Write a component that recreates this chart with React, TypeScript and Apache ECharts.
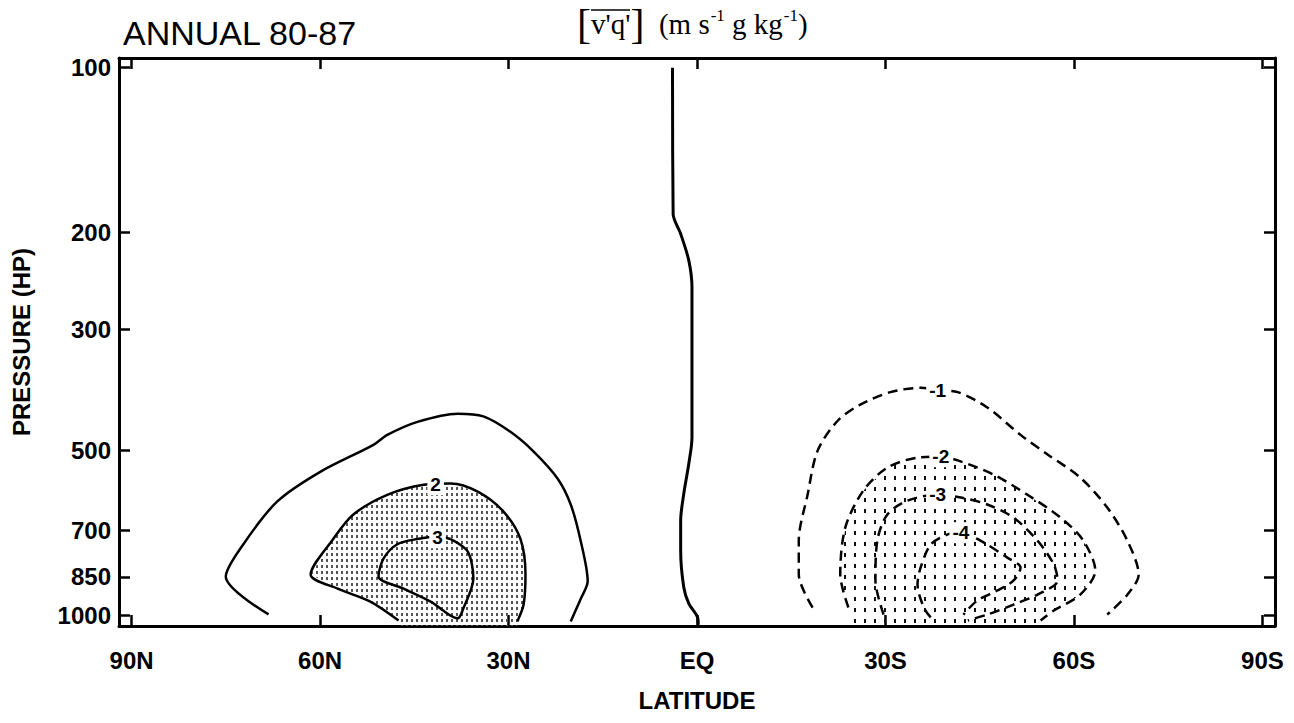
import React, { useEffect, useRef } from "react";
import * as echarts from "echarts";

// Axis definitions
const LAT_TICKS = [90, 60, 30, 0, -30, -60, -90];
const PRESSURE_TICKS = [100, 200, 300, 500, 700, 850, 1000];
const LAT_RANGE = [-92, 92];
const PRESSURE_RANGE = [96, 1045];

// Contours: [latitude (N positive), pressure (hPa)]
const ZERO_LINE = [
  [3.9, 100], [3.8, 185], [2.6, 201], [1.3, 225], [0.8, 252], [0.8, 473],
  [1.3, 528], [2.1, 599], [2.6, 671], [2.6, 761], [2.1, 889], [1.3, 951],
  [-0.1, 1008], [-0.2, 1040],
];
const NH_PLUS1 = [
  [68.2, 995], [75.0, 849], [72.2, 741], [66.8, 619], [59.9, 546], [51.5, 488],
  [49.3, 468], [44.5, 443], [38.1, 428], [34.0, 433], [29.7, 462], [26.0, 502],
  [22.2, 562], [20.1, 627], [18.5, 732], [17.4, 866], [18.5, 932], [20.1, 1025],
];
const NH_PLUS2 = [
  [47.5, 1021], [52.0, 943], [57.2, 893], [61.5, 842], [57.9, 725], [54.7, 654],
  [49.3, 602], [43.5, 577], [39.2, 574], [34.9, 594], [30.8, 646], [28.1, 725],
  [27.3, 842], [27.6, 955], [28.6, 1025],
];
const NH_PLUS3 = [
  [39.2, 725], [36.5, 764], [35.6, 856], [37.2, 971], [38.1, 1012], [42.4, 943],
  [46.7, 893], [50.7, 849], [49.9, 787], [47.7, 741], [44.5, 725], [41.3, 718],
  [39.2, 725],
];
const SH_MINUS1 = [
  [-18.4, 967], [-16.2, 842], [-16.2, 730], [-17.6, 602], [-19.2, 500], [-22.4, 441],
  [-26.0, 412], [-30.8, 391], [-35.6, 384], [-38.3, 388], [-41.5, 391], [-46.2, 417],
  [-51.5, 468], [-55.8, 508], [-61.0, 560], [-65.3, 635], [-68.5, 730], [-70.3, 842],
  [-68.5, 916], [-65.3, 996],
];
const SH_MINUS2 = [
  [-24.1, 967], [-22.8, 842], [-23.6, 691], [-26.5, 591], [-30.3, 537], [-35.1, 515],
  [-38.8, 513], [-41.5, 521], [-47.2, 553], [-52.6, 602], [-57.9, 663], [-61.5, 730],
  [-63.4, 828], [-61.0, 916], [-56.8, 979], [-54.7, 1021],
];
const SH_MINUS3 = [
  [-29.7, 996], [-28.4, 863], [-28.7, 730], [-30.3, 654], [-33.5, 617], [-38.3, 602],
  [-42.0, 609], [-46.2, 627], [-50.4, 663], [-54.2, 730], [-56.8, 807], [-57.4, 863],
  [-54.2, 916], [-50.4, 955], [-46.2, 996], [-43.1, 1021],
];
const SH_MINUS4 = [
  [-37.2, 1008], [-36.1, 967], [-35.1, 878], [-35.6, 817], [-37.2, 742], [-39.9, 711],
  [-42.0, 706], [-45.1, 730], [-49.4, 784], [-51.5, 817], [-50.4, 863], [-47.8, 900],
  [-44.6, 939], [-42.4, 996],
];

// Contour labels
const CONTOUR_LABELS = ["2", "3", "-1", "-2", "-3", "-4"];
const CONTOUR_LABEL_LAT = [41.6, 41.3, -38.3, -38.8, -38.3, -42.0];
const CONTOUR_LABEL_P = [577, 721, 388, 513, 602, 706];

const SANS = "'Liberation Sans', Arial, Helvetica, sans-serif";
const SERIF = "'Liberation Serif', 'Times New Roman', Times, serif";

function latLabel(v: number): string {
  if (v === 0) return "EQ";
  return v > 0 ? `${v}N` : `${-v}S`;
}

function makeStipple(cellW: number, cellH: number, dotW: number, dotH: number, color: string) {
  const c = document.createElement("canvas");
  c.width = cellW;
  c.height = cellH;
  const ctx = c.getContext("2d");
  if (ctx) {
    ctx.fillStyle = color;
    ctx.fillRect(Math.floor((cellW - dotW) / 2), Math.floor((cellH - dotH) / 2), dotW, dotH);
  }
  return { image: c, repeat: "repeat", imageWidth: cellW, imageHeight: cellH };
}

function shadeSeries(contour: number[][], fill: any) {
  return {
    type: "custom",
    coordinateSystem: "cartesian2d",
    xAxisIndex: 0,
    yAxisIndex: 0,
    silent: true,
    clip: true,
    z: 1,
    data: [[0, 500]],
    renderItem: (_params: any, api: any) => {
      const pts = contour.map((d) => api.coord([d[0], d[1]]));
      const first = contour[0];
      const last = contour[contour.length - 1];
      pts.push(api.coord([last[0], PRESSURE_RANGE[1]]));
      pts.push(api.coord([first[0], PRESSURE_RANGE[1]]));
      return {
        type: "polygon",
        shape: { points: pts },
        style: { fill, stroke: null, lineWidth: 0 },
      };
    },
  };
}

function contourSeries(data: number[][], dashed: boolean, width = 2.5) {
  return {
    type: "line",
    xAxisIndex: 0,
    yAxisIndex: 0,
    data,
    symbol: "none",
    showSymbol: false,
    smooth: 0.3,
    silent: true,
    z: 3,
    lineStyle: { color: "#000", width, type: dashed ? [10, 6] : "solid" },
  };
}

export default function App() {
  const ref = useRef<HTMLDivElement>(null);

  useEffect(() => {
    document.body.style.margin = "0";
    if (!ref.current) return;
    const chart = echarts.init(ref.current, null, { renderer: "svg" });

    const northFill = makeStipple(5, 6, 2, 3, "#555");
    const southFill = makeStipple(10, 11, 2, 4, "#111");

    const axisLine = { show: true, onZero: false, lineStyle: { color: "#000", width: 3 } };
    const tickStyle = { color: "#000", width: 2.5 };

    const xBase = {
      type: "value",
      min: LAT_RANGE[0],
      max: LAT_RANGE[1],
      inverse: true,
      splitLine: { show: false },
      axisLine,
    };
    const yBase = {
      type: "log",
      logBase: 10,
      min: PRESSURE_RANGE[0],
      max: PRESSURE_RANGE[1],
      inverse: true,
      splitLine: { show: false },
      minorTick: { show: false },
      minorSplitLine: { show: false },
      axisLine,
    };

    const richBase = { fontFamily: SERIF, fontWeight: "normal", color: "#000", verticalAlign: "middle" };

    const option: any = {
      animation: false,
      backgroundColor: "#fff",
      grid: { left: 119, right: 19, top: 58, bottom: 97, containLabel: false, outerBoundsMode: "none" },
      title: [
        {
          text: "ANNUAL 80-87",
          left: 123,
          top: 16,
          padding: 0,
          textStyle: { fontFamily: SANS, fontSize: 34, fontWeight: "normal", color: "#000" },
        },
        {
          text: "{b|[}{v|v'q'}{b|]}{t|  (m s}{s|-1}{t| g kg}{s|-1}{t|)}",
          left: 577,
          top: 3,
          padding: 0,
          textStyle: {
            fontFamily: SERIF,
            fontSize: 29,
            fontWeight: "normal",
            color: "#000",
            rich: {
              b: { ...richBase, fontSize: 42 },
              v: { ...richBase, fontSize: 29 },
              t: { ...richBase, fontSize: 29 },
              s: { ...richBase, fontSize: 17, padding: [0, 0, 18, 1] },
            },
          },
        },
      ],
      graphic: [
        {
          type: "line",
          shape: { x1: 591, y1: 10, x2: 630, y2: 10 },
          style: { stroke: "#000", lineWidth: 1.6 },
          z: 10,
        },
      ],
      xAxis: [
        {
          ...xBase,
          position: "bottom",
          axisTick: { show: true, inside: true, length: 11, lineStyle: tickStyle, customValues: LAT_TICKS },
          axisLabel: {
            show: true,
            customValues: LAT_TICKS,
            formatter: (v: number) => latLabel(v),
            margin: 22,
            fontSize: 24,
            fontWeight: "bold",
            fontFamily: SANS,
            color: "#000",
          },
          name: "LATITUDE",
          nameLocation: "middle",
          nameGap: 62,
          nameTextStyle: { fontSize: 24, fontWeight: "bold", fontFamily: SANS, color: "#000" },
        },
        {
          ...xBase,
          position: "top",
          axisTick: { show: true, inside: true, length: 11, lineStyle: tickStyle, customValues: LAT_TICKS },
          axisLabel: { show: false },
        },
      ],
      yAxis: [
        {
          ...yBase,
          position: "left",
          axisTick: { show: true, inside: true, length: 11, lineStyle: tickStyle, customValues: PRESSURE_TICKS },
          axisLabel: {
            show: true,
            customValues: PRESSURE_TICKS,
            formatter: (v: number) => String(Math.round(v)),
            margin: 8,
            fontSize: 24,
            fontWeight: "bold",
            fontFamily: SANS,
            color: "#000",
          },
          name: "PRESSURE (HP)",
          nameLocation: "middle",
          nameGap: 86,
          nameRotate: 90,
          nameTextStyle: { fontSize: 24, fontWeight: "bold", fontFamily: SANS, color: "#000" },
        },
        {
          ...yBase,
          position: "right",
          axisTick: { show: true, inside: true, length: 11, lineStyle: tickStyle, customValues: PRESSURE_TICKS },
          axisLabel: { show: false },
        },
      ],
      series: [
        shadeSeries(NH_PLUS2, northFill),
        shadeSeries(SH_MINUS2, southFill),
        contourSeries(ZERO_LINE, false, 3),
        contourSeries(NH_PLUS1, false),
        contourSeries(NH_PLUS2, false),
        contourSeries(NH_PLUS3, false),
        contourSeries(SH_MINUS1, true),
        contourSeries(SH_MINUS2, true),
        contourSeries(SH_MINUS3, true),
        contourSeries(SH_MINUS4, true),
        {
          type: "scatter",
          xAxisIndex: 0,
          yAxisIndex: 0,
          silent: true,
          z: 6,
          symbol: "rect",
          symbolSize: 1,
          itemStyle: { color: "#fff", opacity: 1 },
          emphasis: { disabled: true },
          data: CONTOUR_LABELS.map((t, i) => [CONTOUR_LABEL_LAT[i], CONTOUR_LABEL_P[i], t]),
          label: {
            show: true,
            position: "inside",
            formatter: (p: any) => p.value[2],
            fontSize: 19,
            fontWeight: "bold",
            fontFamily: SANS,
            color: "#000",
            opacity: 1,
            textBorderWidth: 0,
            backgroundColor: "#fff",
            padding: [1, 3],
          },
        },
      ],
    };

    chart.setOption(option);
    return () => {
      chart.dispose();
    };
  }, []);

  return <div ref={ref} style={{ width: 1294, height: 723 }} />;
}
